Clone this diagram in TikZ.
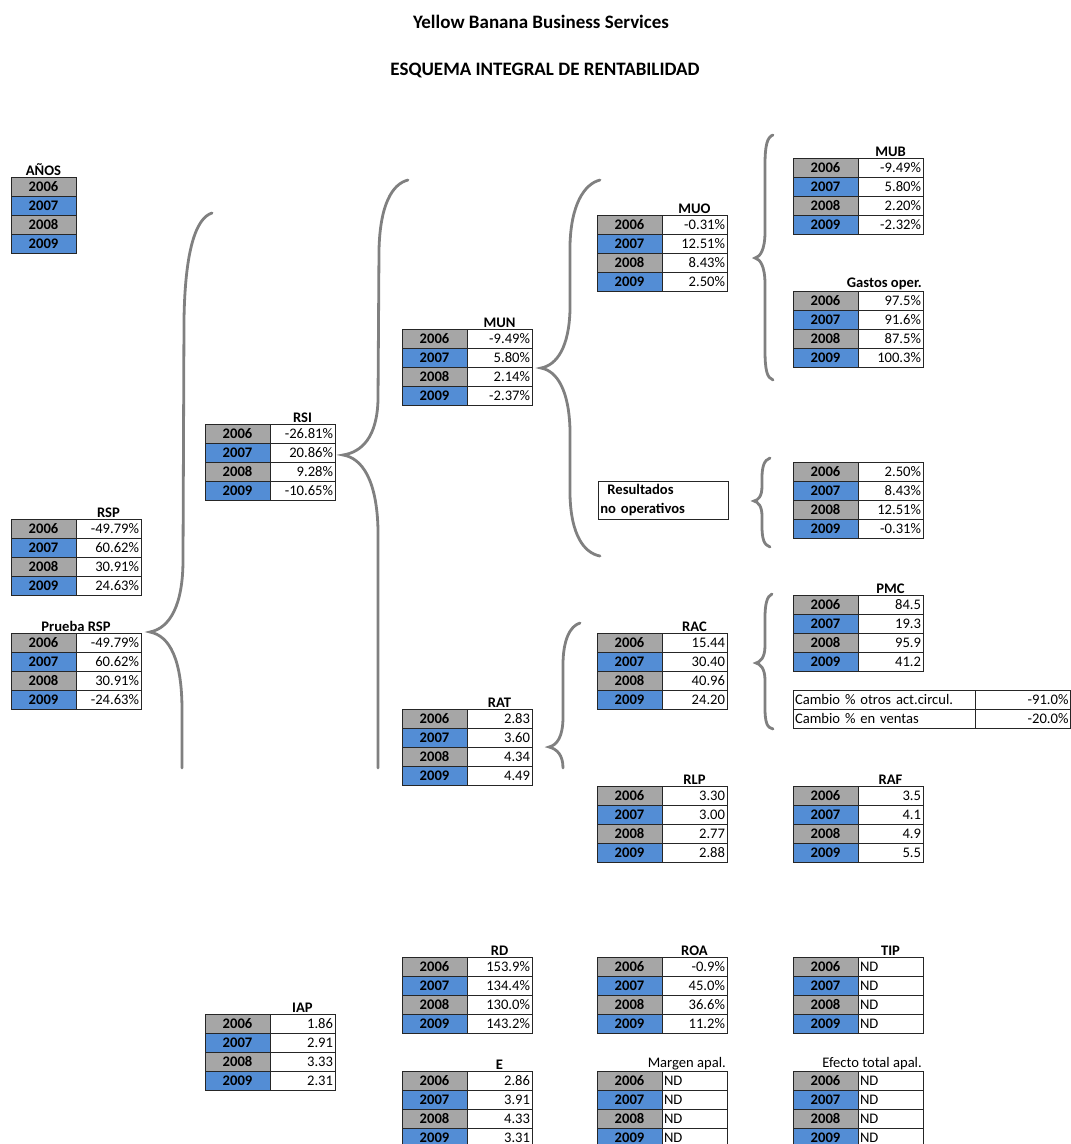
\documentclass[tikz,border=0pt]{standalone}
\usepackage{fontspec}
\setmainfont{Carlito}
\usetikzlibrary{positioning}
\definecolor{gris}{HTML}{A6A6A6}
\definecolor{azul}{HTML}{538DD5}
\definecolor{llavegris}{HTML}{808080}
\newcommand{\fs}{\fontsize{14.6}{19}\selectfont}
\tikzset{%
	% Specifications for style of nodes:
	celda/.style = {rectangle, draw=black!85, line width=0.8pt, minimum width=65pt, minimum height=19pt, inner sep=0pt, outer sep=0pt},
	anioG/.style = {celda, fill=gris, font=\fs\bfseries},
	anioA/.style = {celda, fill=azul, font=\fs\bfseries},
	valor/.style = {celda, fill=white, text width=61pt, align=right},
	vacio/.style = {celda, fill=white, text width=61pt, align=left},
	titulo/.style = {font=\fs\bfseries, inner sep=1pt},
	cabecera/.style = {font=\fontsize{19}{22}\selectfont\bfseries, inner sep=1pt},
	llave/.style = {draw=llavegris, line width=2.8pt, line cap=round},
}
% one table of four years
\newcommand{\tabla}[6]{%
	\node (#1-1) [anioG, anchor=north west] at (#2) {2006};
	\node (#1-2) [anioA, below=0pt of #1-1] {2007};
	\node (#1-3) [anioG, below=0pt of #1-2] {2008};
	\node (#1-4) [anioA, below=0pt of #1-3] {2009};
	\node (#1-v1) [valor, right=0pt of #1-1] {#3};
	\node (#1-v2) [valor, right=0pt of #1-2] {#4};
	\node (#1-v3) [valor, right=0pt of #1-3] {#5};
	\node (#1-v4) [valor, right=0pt of #1-4] {#6};
}
\newcommand{\tablaND}[2]{%
	\node (#1-1) [anioG, anchor=north west] at (#2) {2006};
	\node (#1-2) [anioA, below=0pt of #1-1] {2007};
	\node (#1-3) [anioG, below=0pt of #1-2] {2008};
	\node (#1-4) [anioA, below=0pt of #1-3] {2009};
	\node (#1-v1) [vacio, right=0pt of #1-1] {ND};
	\node (#1-v2) [vacio, right=0pt of #1-2] {ND};
	\node (#1-v3) [vacio, right=0pt of #1-3] {ND};
	\node (#1-v4) [vacio, right=0pt of #1-4] {ND};
}

\begin{document}
\begin{tikzpicture}[x=1pt, y=-1pt, font=\fs]
	\useasboundingbox (0,0) rectangle (1071,1144);

	\node (Empresa) [cabecera] at (541,22) {Yellow Banana Business Services};
	\node (Esquema) [cabecera] at (545,70) {ESQUEMA INTEGRAL DE RENTABILIDAD};

	% years
	\node (A-1) [anioG, anchor=north west] at (11,177) {2006};
	\node (A-2) [anioA, below=0pt of A-1] {2007};
	\node (A-3) [anioG, below=0pt of A-2] {2008};
	\node (A-4) [anioA, below=0pt of A-3] {2009};
	\node (A-t) [titulo, above=0pt of A-1] {AÑOS};

	\tabla{RSP}{11,519}{-49.79\%}{60.62\%}{30.91\%}{24.63\%}
	\node (RSP-t) [titulo, above=0pt of RSP-v1] {RSP};
	\tabla{PR}{11,633}{-49.79\%}{60.62\%}{30.91\%}{-24.63\%}
	\node (PR-t) [titulo, above=0pt of PR-1.north east] {Prueba RSP};

	\tabla{RSI}{205,424}{-26.81\%}{20.86\%}{9.28\%}{-10.65\%}
	\node (RSI-t) [titulo, above=0pt of RSI-v1] {RSI};
	\tabla{IAP}{205,1014}{1.86}{2.91}{3.33}{2.31}
	\node (IAP-t) [titulo, above=0pt of IAP-v1] {IAP};

	\tabla{MUN}{402,329}{-9.49\%}{5.80\%}{2.14\%}{-2.37\%}
	\node (MUN-t) [titulo, above=0pt of MUN-v1] {MUN};
	\tabla{RAT}{402,709}{2.83}{3.60}{4.34}{4.49}
	\node (RAT-t) [titulo, above=0pt of RAT-v1] {RAT};
	\tabla{RD}{402,957}{153.9\%}{134.4\%}{130.0\%}{143.2\%}
	\node (RD-t) [titulo, above=0pt of RD-v1] {RD};
	\tabla{E}{402,1071}{2.86}{3.91}{4.33}{3.31}
	\node (E-t) [titulo, above=0pt of E-v1] {E};

	\tabla{MUO}{597,215}{-0.31\%}{12.51\%}{8.43\%}{2.50\%}
	\node (MUO-t) [titulo, above=0pt of MUO-v1] {MUO};
	\node (RNO) [rectangle, draw=black!85, line width=0.8pt, anchor=north west, minimum width=130pt, minimum height=38pt, text width=126pt, inner xsep=2pt, inner ysep=0pt, align=left, font=\fs\bfseries] at (598,481) {\hspace*{7pt}Resultados\\no operativos};
	\tabla{RAC}{597,633}{15.44}{30.40}{40.96}{24.20}
	\node (RAC-t) [titulo, above=0pt of RAC-v1] {RAC};
	\tabla{RLP}{597,786}{3.30}{3.00}{2.77}{2.88}
	\node (RLP-t) [titulo, above=0pt of RLP-v1] {RLP};
	\tabla{ROA}{597,957}{-0.9\%}{45.0\%}{36.6\%}{11.2\%}
	\node (ROA-t) [titulo, above=0pt of ROA-v1] {ROA};
	\tablaND{MA}{597,1071}
	\node (MA-t) [inner sep=1pt, anchor=south east] at (MA-v1.north east) {Margen apal.};

	\tabla{MUB}{793,158}{-9.49\%}{5.80\%}{2.20\%}{-2.32\%}
	\node (MUB-t) [titulo, above=0pt of MUB-v1] {MUB};
	\tabla{GO}{793,291}{97.5\%}{91.6\%}{87.5\%}{100.3\%}
	\node (GO-t) [titulo, anchor=south east] at (GO-v1.north east) {Gastos oper.};
	\tabla{RN}{793,462}{2.50\%}{8.43\%}{12.51\%}{-0.31\%}
	\tabla{PMC}{793,595}{84.5}{19.3}{95.9}{41.2}
	\node (PMC-t) [titulo, above=0pt of PMC-v1] {PMC};
	\node (CB-1) [celda, anchor=north west, minimum width=182pt, text width=178pt, align=left] at (793,690) {Cambio \% otros act.circul.};
	\node (CB-v1) [valor, minimum width=95pt, text width=92pt, right=0pt of CB-1] {-91.0\%};
	\node (CB-2) [celda, minimum width=182pt, text width=178pt, align=left, below=0pt of CB-1] {Cambio \% en ventas};
	\node (CB-v2) [valor, minimum width=95pt, text width=92pt, right=0pt of CB-2] {-20.0\%};
	\tabla{RAF}{793,786}{3.5}{4.1}{4.9}{5.5}
	\node (RAF-t) [titulo, above=0pt of RAF-v1] {RAF};
	\tablaND{TIP}{793,957}
	\node (TIP-t) [titulo, above=0pt of TIP-v1] {TIP};
	\tablaND{ETA}{793,1071}
	\node (ETA-t) [inner sep=1pt, anchor=south east] at (ETA-v1.north east) {Efecto total apal.};

	% braces
	\draw [llave] (212,213) .. controls (196,218) and (185,250) .. (184,320) -- (183,560) .. controls (183,605) and (170,628) .. (150,632) .. controls (170,636) and (182,660) .. (182,710) -- (182,768);
	\draw [llave] (408,180) .. controls (392,184) and (380,205) .. (379,250) -- (378,400) .. controls (377,437) and (362,452) .. (343,455) .. controls (362,458) and (377,480) .. (378,530) -- (378,768);
	\draw [llave] (600,180) .. controls (584,184) and (571,205) .. (570,245) -- (570,310) .. controls (569,347) and (557,365) .. (541,368) .. controls (557,371) and (569,390) .. (570,430) -- (570,495) .. controls (571,535) and (584,553) .. (600,556);
	\draw [llave] (773,135) .. controls (767,137) and (765,146) .. (765,165) -- (765,232) .. controls (765,250) and (760,257) .. (755,258) .. controls (760,259) and (765,266) .. (765,284) -- (765,350) .. controls (765,370) and (767,378) .. (773,380);
	\draw [llave] (770,458) .. controls (764,460) and (762,467) .. (762,478) -- (762,486) .. controls (762,497) and (758,500) .. (754,501) .. controls (758,502) and (762,506) .. (762,516) -- (762,526) .. controls (762,539) and (764,545) .. (770,547);
	\draw [llave] (772,594) .. controls (767,596) and (765,604) .. (765,618) -- (765,646) .. controls (765,658) and (760,662) .. (756,663) .. controls (760,664) and (765,668) .. (765,680) -- (765,708) .. controls (765,722) and (767,728) .. (773,729);
	\draw [llave] (580,623) .. controls (570,626) and (563,640) .. (563,665) -- (563,717) .. controls (563,737) and (557,745) .. (549,747) .. controls (557,749) and (563,755) .. (563,768);
\end{tikzpicture}
\end{document}
